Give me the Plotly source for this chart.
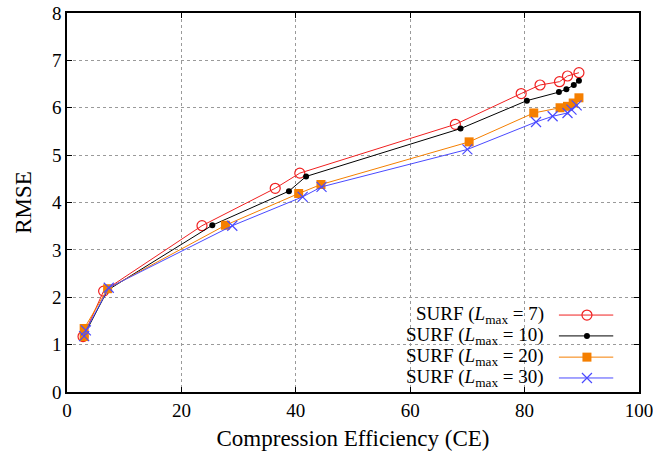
import plotly.graph_objects as go

# RMSE versus compression efficiency for SURF with different L_max
ce_l7 = [2.8, 6.4, 23.6, 36.4, 40.7, 67.9, 79.4, 82.7, 86.1, 87.5, 89.5]
rmse_l7 = [1.17, 2.13, 3.51, 4.30, 4.62, 5.65, 6.30, 6.48, 6.55, 6.67, 6.74]

ce_l10 = [3.0, 7.1, 25.4, 38.8, 41.8, 68.8, 80.4, 86.0, 87.3, 88.6, 89.5]
rmse_l10 = [1.20, 2.15, 3.52, 4.24, 4.55, 5.56, 6.15, 6.33, 6.39, 6.48, 6.57]

ce_l20 = [3.0, 3.0, 7.1, 27.7, 40.5, 44.4, 70.3, 81.6, 86.2, 87.5, 88.5, 89.5]
rmse_l20 = [1.17, 1.34, 2.18, 3.52, 4.19, 4.38, 5.28, 5.89, 6.00, 6.03, 6.10, 6.21]

ce_l30 = [3.0, 3.3, 7.3, 28.9, 41.2, 44.5, 70.0, 82.0, 84.9, 87.5, 88.2, 89.1]
rmse_l30 = [1.18, 1.30, 2.20, 3.51, 4.12, 4.33, 5.12, 5.70, 5.82, 5.89, 5.96, 6.05]

x_ticks = [0, 20, 40, 60, 80, 100]
y_ticks = [0, 1, 2, 3, 4, 5, 6, 7, 8]

labels = [
    "SURF (<i>L</i><sub>max</sub> = 7)",
    "SURF (<i>L</i><sub>max</sub> = 10)",
    "SURF (<i>L</i><sub>max</sub> = 20)",
    "SURF (<i>L</i><sub>max</sub> = 30)",
]
colors = ["#f02020", "#000000", "#f57f00", "#4a4aff"]
markers = [
    dict(symbol="circle-open", size=10, color=colors[0], line=dict(width=1.2, color=colors[0])),
    dict(symbol="circle", size=6, color=colors[1]),
    dict(symbol="square", size=9, color=colors[2]),
    dict(symbol="x-thin-open", size=10, color=colors[3], line=dict(width=1.2, color=colors[3])),
]

series = [(ce_l7, rmse_l7), (ce_l10, rmse_l10), (ce_l20, rmse_l20), (ce_l30, rmse_l30)]

FONT = "Liberation Serif, DejaVu Serif, serif"

fig = go.Figure()
for (xs, ys), col, mk in zip(series, colors, markers):
    fig.add_trace(go.Scatter(
        x=xs, y=ys, mode="lines+markers",
        line=dict(color=col, width=1),
        marker=mk, showlegend=False, cliponaxis=False,
    ))

# Key in the lower right: text on the left, line sample with marker on the right
key_rows = [0.203, 0.148, 0.092, 0.037]
for lab, col, mk, yk in zip(labels, colors, markers, key_rows):
    fig.add_annotation(
        x=0.838, y=yk, xref="paper", yref="paper", text=lab,
        showarrow=False, xanchor="right", yanchor="middle",
        font=dict(family=FONT, size=19, color="black"),
    )
    fig.add_trace(go.Scatter(
        x=[0.860, 0.955], y=[yk, yk], xaxis="x2", yaxis="y2",
        mode="lines", line=dict(color=col, width=1),
        showlegend=False, hoverinfo="skip",
    ))
    fig.add_trace(go.Scatter(
        x=[0.909], y=[yk], xaxis="x2", yaxis="y2",
        mode="markers", marker=mk,
        showlegend=False, hoverinfo="skip",
    ))

axis_common = dict(
    showline=True, linecolor="black", linewidth=1.5, mirror="ticks",
    ticks="inside", ticklen=5, tickcolor="black",
    showgrid=True, gridcolor="#9a9a9a", griddash="dot", gridwidth=1,
    zeroline=False, ticklabeloverflow="allow", automargin=False,
    tickfont=dict(family=FONT, size=19, color="black"),
)

fig.update_layout(
    width=653, height=456,
    margin=dict(l=67, r=14, t=13, b=64),
    paper_bgcolor="white", plot_bgcolor="white",
    xaxis=dict(range=[0, 100], tickvals=x_ticks,
               title=dict(text="Compression Efficiency (CE)",
                          font=dict(family=FONT, size=23, color="black"), standoff=10),
               **axis_common),
    yaxis=dict(range=[0, 8], tickvals=y_ticks,
               title=dict(text="RMSE", font=dict(family=FONT, size=23, color="black"), standoff=14),
               **axis_common),
    xaxis2=dict(range=[0, 1], overlaying="x", visible=False, fixedrange=True),
    yaxis2=dict(range=[0, 1], overlaying="y", visible=False, fixedrange=True),
    showlegend=False,
)

fig.write_html("out.html")
